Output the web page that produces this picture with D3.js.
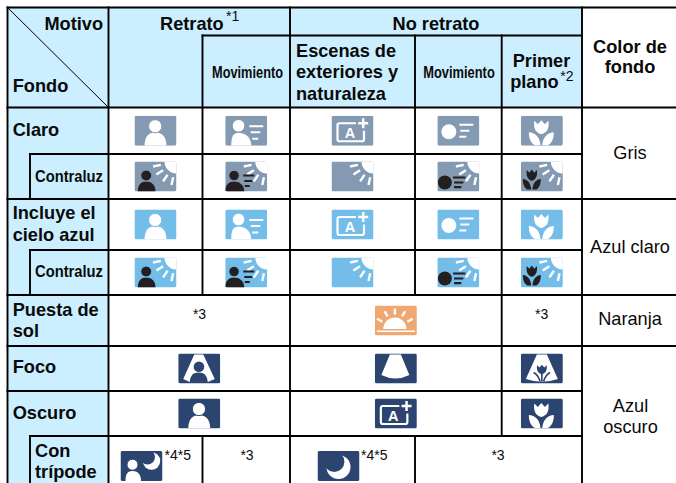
<!DOCTYPE html>
<html>
<head>
<meta charset="utf-8">
<script src="https://d3js.org/d3.v7.min.js"></script>
<style>
  html, body { margin: 0; padding: 0; background: white; }
  svg { display: block; }
  text { font-family: "Liberation Sans", Arial, sans-serif; fill: #0a0a0a; }
  .b { font-weight: bold; font-size: 18.2px; }
  .r { font-size: 18.2px; }
  .s { font-size: 14px; }
  .n { font-weight: bold; font-size: 17px; }
</style>
</head>
<body>
<svg width="676" height="483"></svg>
<script>
var columns = ["fondo", "retrato", "retratoMov", "escenas", "noMov", "primer", "color", "end"];
var rows = ["head1", "head2", "claro", "claroC", "cielo", "cieloC", "puesta", "foco", "oscuro", "tripode", "end"];

// tone of each icon, one per background kind
var tones = ["gris", "cielo", "naranja", "oscuro"];

// col, last col (exclusive), row, glyph, tone
var iconCells = [
  ["retrato", "retratoMov", "claro", "person", "gris"],
  ["retratoMov", "escenas", "claro", "personMove", "gris"],
  ["escenas", "noMov", "claro", "auto", "gris"],
  ["noMov", "primer", "claro", "ballMove", "gris"],
  ["primer", "color", "claro", "flower", "gris"],
  ["retrato", "retratoMov", "claroC", "personBack", "gris"],
  ["retratoMov", "escenas", "claroC", "personMoveBack", "gris"],
  ["escenas", "noMov", "claroC", "back", "gris"],
  ["noMov", "primer", "claroC", "ballMoveBack", "gris"],
  ["primer", "color", "claroC", "flowerBack", "gris"],
  ["retrato", "retratoMov", "cielo", "person", "cielo"],
  ["retratoMov", "escenas", "cielo", "personMove", "cielo"],
  ["escenas", "noMov", "cielo", "auto", "cielo"],
  ["noMov", "primer", "cielo", "ballMove", "cielo"],
  ["primer", "color", "cielo", "flower", "cielo"],
  ["retrato", "retratoMov", "cieloC", "personBack", "cielo"],
  ["retratoMov", "escenas", "cieloC", "personMoveBack", "cielo"],
  ["escenas", "noMov", "cieloC", "back", "cielo"],
  ["noMov", "primer", "cieloC", "ballMoveBack", "cielo"],
  ["primer", "color", "cieloC", "flowerBack", "cielo"],
  ["escenas", "primer", "puesta", "sunset", "naranja"],
  ["retrato", "escenas", "foco", "spotPerson", "oscuro"],
  ["escenas", "primer", "foco", "spot", "oscuro"],
  ["primer", "color", "foco", "spotFlower", "oscuro"],
  ["retrato", "escenas", "oscuro", "person", "oscuro"],
  ["escenas", "primer", "oscuro", "auto", "oscuro"],
  ["primer", "color", "oscuro", "flower", "oscuro"],
  ["retrato", "retratoMov", "tripode", "personMoon", "oscuro"],
  ["escenas", "noMov", "tripode", "moon", "oscuro"]
];

// text, class, col, row
var labels = [
  ["Motivo", "b", "fondo", "head1"],
  ["Fondo", "b", "fondo", "head2"],
  ["Retrato", "b", "retrato", "head1"],
  ["*1", "s", "retrato", "head1"],
  ["No retrato", "b", "escenas", "head1"],
  ["Movimiento", "n", "retratoMov", "head2"],
  ["Escenas de", "b", "escenas", "head2"],
  ["exteriores y", "b", "escenas", "head2"],
  ["naturaleza", "b", "escenas", "head2"],
  ["Movimiento", "n", "noMov", "head2"],
  ["Primer", "b", "primer", "head2"],
  ["plano", "b", "primer", "head2"],
  ["*2", "s", "primer", "head2"],
  ["Color de", "b", "color", "head2"],
  ["fondo", "b", "color", "head2"],
  ["Claro", "b", "fondo", "claro"],
  ["Contraluz", "n", "fondo", "claroC"],
  ["Incluye el", "b", "fondo", "cielo"],
  ["cielo azul", "b", "fondo", "cielo"],
  ["Contraluz", "n", "fondo", "cieloC"],
  ["Puesta de", "b", "fondo", "puesta"],
  ["sol", "b", "fondo", "puesta"],
  ["Foco", "b", "fondo", "foco"],
  ["Oscuro", "b", "fondo", "oscuro"],
  ["Con", "b", "fondo", "tripode"],
  ["trípode", "b", "fondo", "tripode"],
  ["Gris", "r", "color", "claro"],
  ["Azul claro", "r", "color", "cielo"],
  ["Naranja", "r", "color", "puesta"],
  ["Azul", "r", "color", "oscuro"],
  ["oscuro", "r", "color", "oscuro"],
  ["*3", "s", "retrato", "puesta"],
  ["*3", "s", "primer", "puesta"],
  ["*4*5", "s", "retrato", "tripode"],
  ["*3", "s", "retratoMov", "tripode"],
  ["*4*5", "s", "escenas", "tripode"],
  ["*3", "s", "noMov", "tripode"]
];

var x = d3.scaleOrdinal(columns, [7.5, 108.5, 202.5, 290, 415, 501.7, 582, 677]);
var y = d3.scaleOrdinal(rows, [7.5, 35.5, 107.5, 154, 199, 250, 295, 346, 391, 436, 484]);
var toneColor = d3.scaleOrdinal(tones, ["#839ab2", "#74bde9", "#f0a873", "#2c4570"]);
var headFill = "#ccefff";
var ink = "#231f20";
var sub = 30; // left edge of the indented Contraluz / Con tripode cells

var svg = d3.select("svg");

// header backgrounds
svg.append("rect").attr("x", x("fondo")).attr("y", y("head1"))
  .attr("width", x("retrato") - x("fondo")).attr("height", y("end") - y("head1")).attr("fill", headFill);
svg.append("rect").attr("x", x("retrato")).attr("y", y("head1"))
  .attr("width", x("color") - x("retrato")).attr("height", y("claro") - y("head1")).attr("fill", headFill);

// grid: horizontal [x1, x2, row]
var hLines = [
  [x("fondo"), x("end"), "head1"],
  [x("retratoMov"), x("escenas"), "head2"],
  [x("escenas"), x("color"), "head2"],
  [x("fondo"), x("end"), "claro"],
  [sub, x("color"), "claroC"],
  [x("fondo"), x("end"), "cielo"],
  [sub, x("color"), "cieloC"],
  [x("fondo"), x("end"), "puesta"],
  [x("fondo"), x("end"), "foco"],
  [x("fondo"), x("color"), "oscuro"],
  [sub, x("color"), "tripode"]
];
// vertical [x, row1, row2]
var vLines = [
  [x("fondo"), "head1", "end"],
  [x("retrato"), "head1", "end"],
  [x("escenas"), "head1", "end"],
  [x("color"), "head1", "end"],
  [x("retratoMov"), "head2", "puesta"],
  [x("retratoMov"), "tripode", "end"],
  [x("noMov"), "head2", "puesta"],
  [x("noMov"), "tripode", "end"],
  [x("primer"), "head2", "tripode"],
  [sub, "claroC", "cielo"],
  [sub, "cieloC", "puesta"],
  [sub, "tripode", "end"]
];
var grid = svg.append("g").attr("stroke", "#000").attr("stroke-width", 1.9).attr("stroke-linecap", "square");
grid.selectAll(".h").data(hLines).enter().append("line")
  .attr("x1", d => d[0]).attr("x2", d => d[1])
  .attr("y1", d => y(d[2])).attr("y2", d => y(d[2]));
grid.selectAll(".v").data(vLines).enter().append("line")
  .attr("x1", d => d[0]).attr("x2", d => d[0])
  .attr("y1", d => y(d[1])).attr("y2", d => y(d[2]));
svg.append("line").attr("x1", x("fondo")).attr("y1", y("head1"))
  .attr("x2", x("retrato")).attr("y2", y("claro")).attr("stroke", "#000").attr("stroke-width", 1);

// icon parts, all in a 42x30 box
var cone = "M16 1H25L36.5 25.5L29.5 28.5C29 22 26 19 20.5 19C15 19 12 22 11.5 28.5L5 25.5Z";
var tulipD = "M13.5 5L17 8.5L20.5 4.5L24 8.5L27.5 5C28.5 11 27 17 20.5 18.5C14 17 12.5 11 13.5 5Z";
var leafL = "M8 16.5C14 17 19 21 19.6 29.5L14 29.5C9.5 27 8 22 8 16.5Z";
var leafR = "M33 16.5C27 17 22 21 21.4 29.5L27 29.5C31.5 27 33 22 33 16.5Z";

function bar(g, x1, x2, yy, col, w) {
  g.append("line").attr("x1", x1).attr("x2", x2).attr("y1", yy).attr("y2", yy)
    .attr("stroke", col).attr("stroke-width", w || 2.2);
}
function person(g, cx, cy, r, left, right, top, bottom, col, bg) {
  g.append("path").attr("fill", col)
    .attr("d", "M" + left + " " + bottom + "C" + left + " " + (top + 3) + " " + (cx - 5) + " " + top + " " + cx + " " + top +
      "C" + (cx + 5) + " " + top + " " + right + " " + (top + 3) + " " + right + " " + bottom + "Z");
  g.append("circle").attr("cx", cx).attr("cy", cy).attr("r", r).attr("fill", col)
    .attr("stroke", bg).attr("stroke-width", 1);
}
function flower(g, col) {
  g.append("path").attr("d", tulipD).attr("fill", col);
  g.append("path").attr("d", leafL).attr("fill", col);
  g.append("path").attr("d", leafR).attr("fill", col);
}
function ray(g, cx, cy, a, r1, r2, w) {
  var t = a * Math.PI / 180;
  g.append("line").attr("stroke", "white").attr("stroke-width", w || 2.4)
    .attr("x1", cx + r1 * Math.cos(t)).attr("y1", cy + r1 * Math.sin(t))
    .attr("x2", cx + r2 * Math.cos(t)).attr("y2", cy + r2 * Math.sin(t));
}
function sun(g) {
  g.append("path").attr("d", "M30 0H40.5Q42 0 42 1.5V12A12 12 0 0 1 30 0Z").attr("fill", "white");
  [168, 147, 124, 102].forEach(a => ray(g, 42, 0, a, 16, 24));
}
function crescent(g, cx, cy, r, ix, iy, ir, bg) {
  g.append("circle").attr("cx", cx).attr("cy", cy).attr("r", r).attr("fill", "white");
  g.append("circle").attr("cx", ix).attr("cy", iy).attr("r", ir).attr("fill", bg);
}

var glyphs = {
  person: (g, bg) => person(g, 20.7, 10.5, 6.6, 10, 32, 16.5, 30, "white", bg),
  personMove: (g, bg) => {
    person(g, 13.3, 10, 6.3, 6, 26, 17, 30, "white", bg);
    bar(g, 24, 38, 10.5, "white"); bar(g, 25.5, 35, 16.5, "white"); bar(g, 27, 33, 23, "white");
  },
  auto: g => {
    g.append("path").attr("fill", "none").attr("stroke", "white").attr("stroke-width", 2.2)
      .attr("d", "M24.5 7.5H8Q6 7.5 6 9.5V23.5Q6 25.5 8 25.5H30.5Q32.5 25.5 32.5 23.5V15");
    bar(g, 26.7, 36.7, 7.4, "white", 2.5);
    g.append("line").attr("x1", 31.7).attr("x2", 31.7).attr("y1", 2.4).attr("y2", 12.4)
      .attr("stroke", "white").attr("stroke-width", 2.5);
    g.append("text").attr("x", 18.5).attr("y", 22.2).attr("text-anchor", "middle")
      .attr("font-weight", "bold").attr("font-size", 14.5).style("fill", "white").text("A");
  },
  ballMove: g => {
    g.append("circle").attr("cx", 11.5).attr("cy", 16).attr("r", 7.5).attr("fill", "white");
    bar(g, 22, 36, 9, "white"); bar(g, 23, 32, 15, "white"); bar(g, 22, 29, 21, "white");
  },
  flower: g => flower(g, "white"),
  back: g => sun(g),
  personBack: (g, bg) => {
    sun(g);
    person(g, 11.7, 14, 5.4, 3.3, 21, 20, 30, ink, bg);
  },
  personMoveBack: (g, bg) => {
    sun(g);
    person(g, 8.8, 14, 5.2, 0, 19, 20, 30, ink, bg);
    bar(g, 18, 29, 14, ink); bar(g, 19, 27, 19.5, ink); bar(g, 19.5, 24.5, 24.5, ink);
  },
  ballMoveBack: g => {
    sun(g);
    g.append("circle").attr("cx", 7.5).attr("cy", 21).attr("r", 7).attr("fill", ink);
    bar(g, 15.7, 28, 16, ink); bar(g, 16.7, 26, 21, ink); bar(g, 16.7, 24, 25.7, ink);
  },
  flowerBack: g => {
    sun(g);
    flower(g.append("g").attr("transform", "translate(-3.8,4.4) scale(0.72,0.8)"), ink);
  },
  sunset: g => {
    g.append("path").attr("d", "M8.5 23.5A11.5 11.5 0 0 1 31.5 23.5Z").attr("fill", "white");
    bar(g, 2, 40, 25.7, "white", 1.5);
    [-150, -120, -90, -60, -30].forEach(a => ray(g, 20, 23.5, a, 14.5, 20.5));
  },
  spot: g => {
    g.append("path").attr("d", "M15 1H26L34.5 21.5Q20.5 28.5 6.5 21.5Z").attr("fill", "white");
  },
  spotPerson: (g, bg) => {
    g.append("path").attr("d", cone).attr("fill", "white");
    g.append("circle").attr("cx", 20.7).attr("cy", 13.3).attr("r", 5.3).attr("fill", bg);
  },
  spotFlower: (g, bg) => {
    g.append("path").attr("d", "M16 1H26L37 25.5Q21 31 5 25.5Z").attr("fill", "white");
    g.append("path").attr("d", tulipD).attr("fill", bg)
      .attr("transform", "translate(7.06,8.3) scale(0.68,0.67)");
    g.append("path").attr("fill", "none").attr("stroke", bg).attr("stroke-width", 1.6)
      .attr("d", "M12.7 19C15 20 18 24 19.3 28M29.3 19C27 20 24 24 22.7 28M21 20V28");
  },
  personMoon: (g, bg) => {
    person(g, 12, 13.7, 5.5, 5, 20.5, 20, 30, "white", bg);
    crescent(g, 31, 10, 8.7, 27, 6, 7.5, bg);
  },
  moon: (g, bg) => crescent(g, 21, 16, 12, 16.7, 10.7, 10.2, bg)
};

// draw the icons
var iconW = 42, iconH = 30;
var rowAfter = r => rows[rows.indexOf(r) + 1];
iconCells.forEach(function (d, i) {
  var cx = (x(d[0]) + x(d[1])) / 2;
  var cy = (y(d[2]) + y(rowAfter(d[2]))) / 2;
  if (d[2] === "tripode") { cx -= 14; cy += 6; }
  var g = svg.append("g").attr("transform", "translate(" + (cx - iconW / 2) + "," + (cy - iconH / 2) + ")");
  g.append("clipPath").attr("id", "c" + i)
    .append("rect").attr("width", iconW).attr("height", iconH).attr("rx", 1.8);
  g.attr("clip-path", "url(#c" + i + ")");
  g.append("rect").attr("width", iconW).attr("height", iconH).attr("fill", toneColor(d[4]));
  glyphs[d[3]](g, toneColor(d[4]));
});

// text offsets from the top-left of the cell named in labels: dx, dy, anchor, width for squeezed text
var textPlace = [
  [95.5, 22, "end"], [5.2, 56.2], [51.5, 22.5], [117.5, 13],
  [146, 22.5, "middle"],
  [45, 42.5, "middle", 71], [6, 21.2], [6, 42.8], [6, 64.5],
  [44, 42.5, "middle", 71.5],
  [11, 31.2], [8.5, 52.8], [58.5, 45.5],
  [48, 17.2, "middle"], [48, 37.8, "middle"],
  [5.2, 28.5], [95.5, 27.7, "end", 68],
  [5.2, 20.3], [5.2, 41.7], [95.5, 27.3, "end", 68],
  [5.2, 21], [5.2, 41.7], [5.2, 27.3], [5.2, 28], [27.5, 20.7], [27.5, 41.7],
  [48, 51, "middle"], [48, 53.7, "middle"], [48, 30, "middle"], [48.5, 21.3, "middle"], [48.5, 41.7, "middle"],
  [91, 24.3, "middle"], [40, 24.3, "middle"], [56, 24, null], [44.5, 24, "middle"], [71, 24, null], [83, 24, "middle"]
];
labels.forEach(function (d, i) {
  var p = textPlace[i];
  var t = svg.append("text").attr("class", d[1])
    .attr("x", x(d[2]) + p[0]).attr("y", y(d[3]) + p[1]).text(d[0]);
  if (p[2]) t.attr("text-anchor", p[2]);
  if (p[3]) t.attr("textLength", p[3]).attr("lengthAdjust", "spacingAndGlyphs");
});
</script>
</body>
</html>
